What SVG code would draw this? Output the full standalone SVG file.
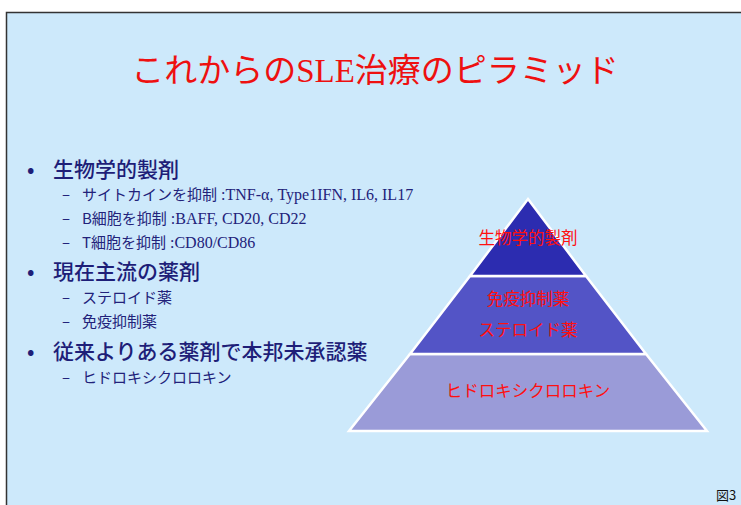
<svg xmlns="http://www.w3.org/2000/svg" width="741" height="505" viewBox="0 0 741 505">
<style>
.cjk{font-family:"Noto Sans CJK JP",sans-serif}
.ser{font-family:"Liberation Serif","Noto Sans CJK JP",serif}
.l1{font-size:21px;fill:#1e1e78;font-weight:500}
.l2{font-size:15px;fill:#22227a}
.lab{font-size:16.5px;fill:#ff1010;text-anchor:middle;font-family:"Noto Sans CJK JP",sans-serif}
.tier{stroke:#ffffff;stroke-width:2.5}
</style>
<rect x="0" y="0" width="741" height="505" fill="#ffffff"/>
<rect x="6.5" y="12.5" width="745" height="500" fill="#cde9fb" stroke="#333333" stroke-width="1.5"/>
<g id="title">
<text x="375" y="82" text-anchor="middle" class="ser" font-size="33" fill="#ee1010">これからの<tspan class="ser">SLE</tspan>治療のピラミッド</text>
</g>
<g id="bullets">
<text x="27" y="177" class="cjk l1">•</text>
<text x="53" y="177" class="cjk l1">生物学的製剤</text>
<text x="62" y="200" class="cjk l2">–</text>
<text x="82" y="200" class="l2"><tspan class="cjk">サイトカインを抑制</tspan><tspan class="ser" font-size="16"> :TNF-α, Type1IFN, IL6, IL17</tspan></text>
<text x="62" y="224" class="cjk l2">–</text>
<text x="82" y="224" class="l2"><tspan class="cjk">B細胞を抑制</tspan><tspan class="ser" font-size="16"> :BAFF, CD20, CD22</tspan></text>
<text x="62" y="248" class="cjk l2">–</text>
<text x="82" y="248" class="l2"><tspan class="cjk">T細胞を抑制</tspan><tspan class="ser" font-size="16"> :CD80/CD86</tspan></text>
<text x="27" y="279" class="cjk l1">•</text>
<text x="53" y="279" class="cjk l1">現在主流の薬剤</text>
<text x="62" y="303" class="cjk l2">–</text>
<text x="82" y="303" class="cjk l2">ステロイド薬</text>
<text x="62" y="327" class="cjk l2">–</text>
<text x="82" y="327" class="cjk l2">免疫抑制薬</text>
<text x="27" y="359" class="cjk l1">•</text>
<text x="53" y="359" class="cjk l1">従来よりある薬剤で本邦未承認薬</text>
<text x="62" y="383" class="cjk l2">–</text>
<text x="82" y="383" class="cjk l2">ヒドロキシクロロキン</text>
</g>
<g id="pyramid">
<g id="tier-bottom">
<polygon class="tier" points="410,354 646,354 707,431 349,431" fill="#9a9bd8"/>
<text x="528" y="397" class="lab">ヒドロキシクロロキン</text>
</g>
<g id="tier-middle">
<polygon class="tier" points="470,276 586,276 646,354 410,354" fill="#5354c6"/>
<text x="528" y="305" class="lab">免疫抑制薬</text>
<text x="528" y="336" class="lab">ステロイド薬</text>
</g>
<g id="tier-top">
<polygon class="tier" points="528,199 586,276 470,276" fill="#2c2cb0"/>
<text x="528" y="244" class="lab" font-size="17.5">生物学的製剤</text>
</g>
</g>
<g id="fig-label">
<text x="716" y="500" class="cjk" font-size="13" fill="#111111">図3</text>
</g>
</svg>
